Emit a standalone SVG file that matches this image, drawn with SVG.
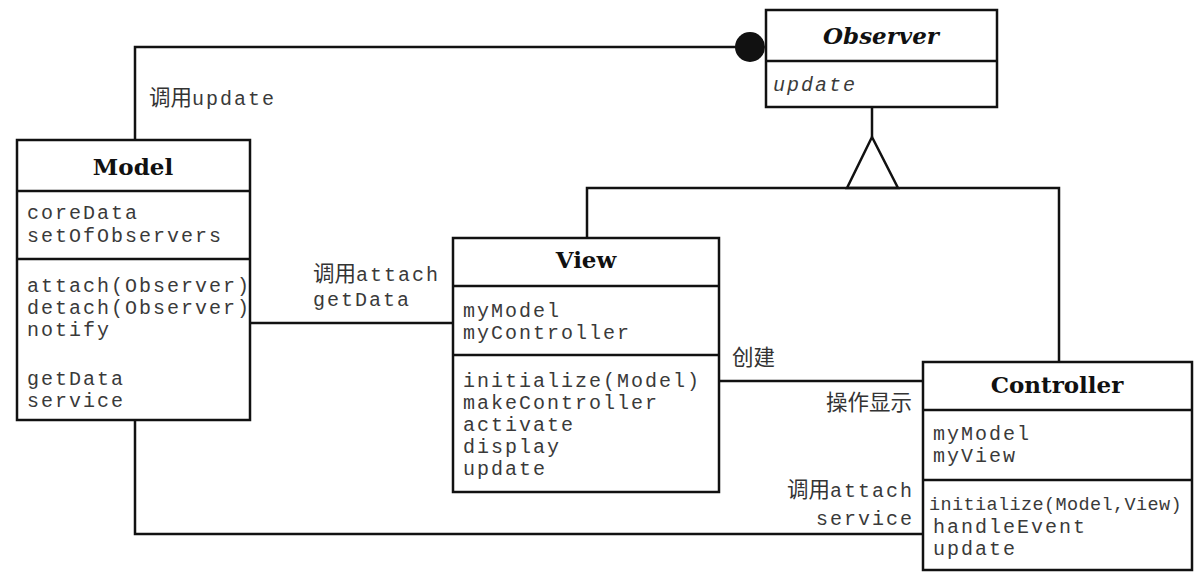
<svg xmlns="http://www.w3.org/2000/svg" width="1200" height="585" viewBox="0 0 1200 585">
<style>
.box{fill:#fff;stroke:#111;stroke-width:2.5}
.ln{fill:none;stroke:#111;stroke-width:2.5}
.title{font-family:"DejaVu Serif","Liberation Serif",serif;font-weight:bold;font-size:23px;fill:#111;text-anchor:middle}
.mono{font-family:"Liberation Mono","DejaVu Sans Mono",monospace;font-size:20px;letter-spacing:2px;fill:#3a3a3a}
.lbl{font-family:"Liberation Mono","DejaVu Sans Mono",monospace;font-size:20px;letter-spacing:2px;fill:#3a3a3a}
.cjk{font-family:"Noto Sans CJK SC",sans-serif;font-size:21.5px;letter-spacing:0;fill:#333}
</style>
<g id="connectors">
  <polyline class="ln" points="135,140 135,47 736,47"/>
  <circle cx="750" cy="47" r="15" fill="#111"/>
  <line class="ln" x1="872" y1="107" x2="872" y2="137"/>
  <polygon class="ln" points="872,137 847,188 898,188"/>
  <polyline class="ln" points="587,238 587,188 1059,188 1059,362"/>
  <line class="ln" x1="250" y1="323" x2="453" y2="323"/>
  <line class="ln" x1="719" y1="381" x2="923" y2="381"/>
  <polyline class="ln" points="135,420 135,534 923,534"/>
  <text class="lbl" x="149" y="105"><tspan class="cjk">调用</tspan>update</text>
  <text class="lbl" x="313" y="281"><tspan class="cjk">调用</tspan>attach</text>
  <text class="lbl" x="313" y="306">getData</text>
  <text class="cjk" x="732" y="365">创建</text>
  <text class="cjk" x="912" y="410" text-anchor="end">操作显示</text>
  <text class="lbl" x="914" y="497" text-anchor="end"><tspan class="cjk">调用</tspan>attach</text>
  <text class="lbl" x="914" y="525" text-anchor="end">service</text>
</g>
<g id="observer">
  <rect class="box" x="766" y="10" width="231" height="97"/>
  <line class="ln" x1="766" y1="61" x2="997" y2="61"/>
  <text class="title" x="881" y="44" font-style="italic">Observer</text>
  <text class="mono" x="773" y="91" font-style="italic">update</text>
</g>
<g id="model">
  <rect class="box" x="17" y="140" width="233" height="280"/>
  <line class="ln" x1="17" y1="191" x2="250" y2="191"/>
  <line class="ln" x1="17" y1="259" x2="250" y2="259"/>
  <text class="title" x="133" y="175">Model</text>
  <text class="mono" x="27" y="219">coreData</text>
  <text class="mono" x="27" y="242">setOfObservers</text>
  <text class="mono" x="27" y="292">attach(Observer)</text>
  <text class="mono" x="27" y="314">detach(Observer)</text>
  <text class="mono" x="27" y="336">notify</text>
  <text class="mono" x="27" y="385">getData</text>
  <text class="mono" x="27" y="407">service</text>
</g>
<g id="view">
  <rect class="box" x="453" y="238" width="266" height="254"/>
  <line class="ln" x1="453" y1="286" x2="719" y2="286"/>
  <line class="ln" x1="453" y1="355" x2="719" y2="355"/>
  <text class="title" x="586" y="268">View</text>
  <text class="mono" x="463" y="317">myModel</text>
  <text class="mono" x="463" y="339">myController</text>
  <text class="mono" x="463" y="387">initialize(Model)</text>
  <text class="mono" x="463" y="409">makeController</text>
  <text class="mono" x="463" y="431">activate</text>
  <text class="mono" x="463" y="453">display</text>
  <text class="mono" x="463" y="475">update</text>
</g>
<g id="controller">
  <rect class="box" x="923" y="362" width="269" height="208"/>
  <line class="ln" x1="923" y1="410" x2="1192" y2="410"/>
  <line class="ln" x1="923" y1="480" x2="1192" y2="480"/>
  <text class="title" x="1057" y="393">Controller</text>
  <text class="mono" x="933" y="440">myModel</text>
  <text class="mono" x="933" y="462">myView</text>
  <text class="mono" x="929" y="510" style="font-size:18.5px;letter-spacing:0.4px">initialize(Model,View)</text>
  <text class="mono" x="933" y="533">handleEvent</text>
  <text class="mono" x="933" y="555">update</text>
</g>
</svg>
